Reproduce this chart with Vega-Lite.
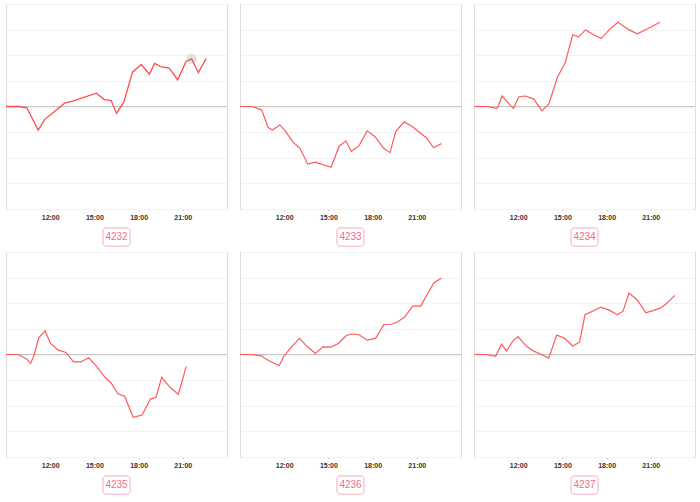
{
  "$schema": "https://vega.github.io/schema/vega-lite/v6.json",
  "padding": {"left": 2, "top": 3, "right": 0, "bottom": 0},
  "background": "white",
  "data": {
    "format": {"parse": {"time": "date:'%H:%M'"}},
    "values": [
      {"panel": "4232", "time": "09:00", "value": 0},
      {"panel": "4232", "time": "09:50", "value": 0},
      {"panel": "4232", "time": "10:25", "value": -0.05},
      {"panel": "4232", "time": "11:11", "value": -0.92},
      {"panel": "4232", "time": "11:38", "value": -0.5},
      {"panel": "4232", "time": "12:10", "value": -0.25},
      {"panel": "4232", "time": "13:00", "value": 0.14},
      {"panel": "4232", "time": "13:28", "value": 0.2},
      {"panel": "4232", "time": "15:08", "value": 0.52},
      {"panel": "4232", "time": "15:40", "value": 0.27},
      {"panel": "4232", "time": "16:08", "value": 0.23},
      {"panel": "4232", "time": "16:30", "value": -0.27},
      {"panel": "4232", "time": "17:00", "value": 0.18},
      {"panel": "4232", "time": "17:35", "value": 1.34},
      {"panel": "4232", "time": "18:11", "value": 1.64},
      {"panel": "4232", "time": "18:44", "value": 1.26},
      {"panel": "4232", "time": "19:05", "value": 1.68},
      {"panel": "4232", "time": "19:32", "value": 1.55},
      {"panel": "4232", "time": "20:05", "value": 1.5},
      {"panel": "4232", "time": "20:39", "value": 1.04},
      {"panel": "4232", "time": "21:13", "value": 1.76},
      {"panel": "4232", "time": "21:36", "value": 1.86},
      {"panel": "4232", "time": "22:03", "value": 1.32},
      {"panel": "4232", "time": "22:35", "value": 1.87},

      {"panel": "4233", "time": "09:00", "value": 0},
      {"panel": "4233", "time": "09:50", "value": 0},
      {"panel": "4233", "time": "10:28", "value": -0.13},
      {"panel": "4233", "time": "10:54", "value": -0.81},
      {"panel": "4233", "time": "11:12", "value": -0.92},
      {"panel": "4233", "time": "11:42", "value": -0.72},
      {"panel": "4233", "time": "12:04", "value": -0.95},
      {"panel": "4233", "time": "12:34", "value": -1.37},
      {"panel": "4233", "time": "13:04", "value": -1.63},
      {"panel": "4233", "time": "13:36", "value": -2.25},
      {"panel": "4233", "time": "14:07", "value": -2.17},
      {"panel": "4233", "time": "15:11", "value": -2.37},
      {"panel": "4233", "time": "15:44", "value": -1.54},
      {"panel": "4233", "time": "16:11", "value": -1.35},
      {"panel": "4233", "time": "16:33", "value": -1.75},
      {"panel": "4233", "time": "17:04", "value": -1.54},
      {"panel": "4233", "time": "17:38", "value": -0.95},
      {"panel": "4233", "time": "18:10", "value": -1.18},
      {"panel": "4233", "time": "18:45", "value": -1.63},
      {"panel": "4233", "time": "19:11", "value": -1.8},
      {"panel": "4233", "time": "19:34", "value": -0.98},
      {"panel": "4233", "time": "20:08", "value": -0.6},
      {"panel": "4233", "time": "20:41", "value": -0.78},
      {"panel": "4233", "time": "21:41", "value": -1.24},
      {"panel": "4233", "time": "22:08", "value": -1.61},
      {"panel": "4233", "time": "22:40", "value": -1.45},

      {"panel": "4234", "time": "09:00", "value": 0},
      {"panel": "4234", "time": "09:54", "value": 0},
      {"panel": "4234", "time": "10:32", "value": -0.07},
      {"panel": "4234", "time": "10:38", "value": -0.01},
      {"panel": "4234", "time": "10:54", "value": 0.41},
      {"panel": "4234", "time": "11:40", "value": -0.08},
      {"panel": "4234", "time": "12:03", "value": 0.38},
      {"panel": "4234", "time": "12:30", "value": 0.41},
      {"panel": "4234", "time": "13:04", "value": 0.29},
      {"panel": "4234", "time": "13:36", "value": -0.17},
      {"panel": "4234", "time": "14:05", "value": 0.1},
      {"panel": "4234", "time": "14:40", "value": 1.15},
      {"panel": "4234", "time": "15:11", "value": 1.7},
      {"panel": "4234", "time": "15:42", "value": 2.8},
      {"panel": "4234", "time": "16:06", "value": 2.72},
      {"panel": "4234", "time": "16:34", "value": 2.99},
      {"panel": "4234", "time": "17:06", "value": 2.81},
      {"panel": "4234", "time": "17:38", "value": 2.65},
      {"panel": "4234", "time": "18:13", "value": 3.02},
      {"panel": "4234", "time": "18:46", "value": 3.29},
      {"panel": "4234", "time": "19:32", "value": 2.99},
      {"panel": "4234", "time": "20:05", "value": 2.84},
      {"panel": "4234", "time": "20:55", "value": 3.07},
      {"panel": "4234", "time": "21:37", "value": 3.29},

      {"panel": "4235", "time": "09:00", "value": 0},
      {"panel": "4235", "time": "09:50", "value": 0},
      {"panel": "4235", "time": "10:24", "value": -0.17},
      {"panel": "4235", "time": "10:40", "value": -0.35},
      {"panel": "4235", "time": "10:54", "value": -0.04},
      {"panel": "4235", "time": "11:13", "value": 0.65},
      {"panel": "4235", "time": "11:39", "value": 0.92},
      {"panel": "4235", "time": "12:02", "value": 0.42},
      {"panel": "4235", "time": "12:33", "value": 0.17},
      {"panel": "4235", "time": "13:04", "value": 0.08},
      {"panel": "4235", "time": "13:35", "value": -0.29},
      {"panel": "4235", "time": "14:05", "value": -0.29},
      {"panel": "4235", "time": "14:37", "value": -0.13},
      {"panel": "4235", "time": "15:09", "value": -0.46},
      {"panel": "4235", "time": "15:44", "value": -0.9},
      {"panel": "4235", "time": "16:08", "value": -1.11},
      {"panel": "4235", "time": "16:36", "value": -1.53},
      {"panel": "4235", "time": "17:03", "value": -1.63},
      {"panel": "4235", "time": "17:38", "value": -2.45},
      {"panel": "4235", "time": "18:14", "value": -2.36},
      {"panel": "4235", "time": "18:48", "value": -1.74},
      {"panel": "4235", "time": "19:11", "value": -1.67},
      {"panel": "4235", "time": "19:34", "value": -0.89},
      {"panel": "4235", "time": "20:08", "value": -1.28},
      {"panel": "4235", "time": "20:42", "value": -1.56},
      {"panel": "4235", "time": "21:14", "value": -0.46},

      {"panel": "4236", "time": "09:00", "value": 0},
      {"panel": "4236", "time": "09:48", "value": 0},
      {"panel": "4236", "time": "10:28", "value": -0.05},
      {"panel": "4236", "time": "10:45", "value": -0.18},
      {"panel": "4236", "time": "11:39", "value": -0.44},
      {"panel": "4236", "time": "12:01", "value": -0.03},
      {"panel": "4236", "time": "12:31", "value": 0.31},
      {"panel": "4236", "time": "13:02", "value": 0.63},
      {"panel": "4236", "time": "13:35", "value": 0.3},
      {"panel": "4236", "time": "14:07", "value": 0.04},
      {"panel": "4236", "time": "14:37", "value": 0.3},
      {"panel": "4236", "time": "15:10", "value": 0.29},
      {"panel": "4236", "time": "15:41", "value": 0.43},
      {"panel": "4236", "time": "16:13", "value": 0.74},
      {"panel": "4236", "time": "16:36", "value": 0.8},
      {"panel": "4236", "time": "17:05", "value": 0.77},
      {"panel": "4236", "time": "17:38", "value": 0.56},
      {"panel": "4236", "time": "18:12", "value": 0.63},
      {"panel": "4236", "time": "18:46", "value": 1.17},
      {"panel": "4236", "time": "19:17", "value": 1.18},
      {"panel": "4236", "time": "19:40", "value": 1.27},
      {"panel": "4236", "time": "20:10", "value": 1.45},
      {"panel": "4236", "time": "20:43", "value": 1.89},
      {"panel": "4236", "time": "21:16", "value": 1.89},
      {"panel": "4236", "time": "21:43", "value": 2.36},
      {"panel": "4236", "time": "22:10", "value": 2.8},
      {"panel": "4236", "time": "22:40", "value": 2.98},

      {"panel": "4237", "time": "09:00", "value": 0},
      {"panel": "4237", "time": "09:50", "value": 0},
      {"panel": "4237", "time": "10:28", "value": -0.07},
      {"panel": "4237", "time": "10:52", "value": 0.4},
      {"panel": "4237", "time": "11:12", "value": 0.14},
      {"panel": "4237", "time": "11:39", "value": 0.53},
      {"panel": "4237", "time": "11:59", "value": 0.7},
      {"panel": "4237", "time": "12:33", "value": 0.33},
      {"panel": "4237", "time": "13:03", "value": 0.13},
      {"panel": "4237", "time": "13:35", "value": 0},
      {"panel": "4237", "time": "14:04", "value": -0.14},
      {"panel": "4237", "time": "14:37", "value": 0.76},
      {"panel": "4237", "time": "15:09", "value": 0.63},
      {"panel": "4237", "time": "15:42", "value": 0.33},
      {"panel": "4237", "time": "16:10", "value": 0.48},
      {"panel": "4237", "time": "16:32", "value": 1.55},
      {"panel": "4237", "time": "17:03", "value": 1.69},
      {"panel": "4237", "time": "17:37", "value": 1.85},
      {"panel": "4237", "time": "18:11", "value": 1.73},
      {"panel": "4237", "time": "18:44", "value": 1.55},
      {"panel": "4237", "time": "19:07", "value": 1.69},
      {"panel": "4237", "time": "19:31", "value": 2.4},
      {"panel": "4237", "time": "20:04", "value": 2.14},
      {"panel": "4237", "time": "20:40", "value": 1.63},
      {"panel": "4237", "time": "21:09", "value": 1.71},
      {"panel": "4237", "time": "21:39", "value": 1.81},
      {"panel": "4237", "time": "22:04", "value": 1.99},
      {"panel": "4237", "time": "22:38", "value": 2.31}
    ]
  },
  "columns": 3,
  "spacing": {"row": 3, "column": 8},
  "concat": [
    {
      "width": 221, "height": 205,
      "layer": [
        {"mark": {"type": "rule", "color": "#c6c6c6", "strokeWidth": 1.1}, "encoding": {"y": {"datum": 0}}},
        {"transform": [{"filter": "datum.panel === '4232' && hours(datum.time) === 21 && minutes(datum.time) === 36"}],
         "mark": {"type": "circle", "size": 110, "color": "#dcdcdc", "opacity": 0.85},
         "encoding": {"x": {"field": "time", "type": "temporal"}, "y": {"field": "value", "type": "quantitative"}}},
        {"transform": [{"filter": "datum.panel === '4232'"}],
         "mark": {"type": "line", "color": "#ff4d4d", "strokeWidth": 1.3},
         "encoding": {
           "x": {"field": "time", "type": "temporal", "title": null,
                 "scale": {"domain": [{"year": 1900, "month": 1, "date": 1, "hours": 9}, {"year": 1900, "month": 1, "date": 2, "hours": 0}]},
                 "axis": {"values": [{"year": 1900, "month": 1, "date": 1, "hours": 12}, {"year": 1900, "month": 1, "date": 1, "hours": 15}, {"year": 1900, "month": 1, "date": 1, "hours": 18}, {"year": 1900, "month": 1, "date": 1, "hours": 21}], "format": "%H:%M"}},
           "y": {"field": "value", "type": "quantitative", "title": null, "scale": {"domain": [-4, 4], "nice": false}}
         }},
        {"data": {"values": [{"label": "4232"}]},
         "mark": {"type": "rect", "fill": "white", "stroke": "#f8a9bf", "strokeWidth": 1, "cornerRadius": 3, "clip": false},
         "encoding": {"x": {"datum": {"year": 1900, "month": 1, "date": 1, "hours": 15, "minutes": 35}}, "x2": {"datum": {"year": 1900, "month": 1, "date": 1, "hours": 17, "minutes": 25}}, "y": {"datum": -4.74}, "y2": {"datum": -5.45}}},
        {"data": {"values": [{"label": "4232"}]},
         "mark": {"type": "text", "color": "#f06b8e", "fontSize": 10, "font": "Liberation Sans", "clip": false},
         "encoding": {"x": {"datum": {"year": 1900, "month": 1, "date": 1, "hours": 16, "minutes": 30}}, "y": {"datum": -5.1}, "text": {"field": "label"}}}
      ]
    },
    {
      "width": 221, "height": 205,
      "layer": [
        {"mark": {"type": "rule", "color": "#c6c6c6", "strokeWidth": 1.1}, "encoding": {"y": {"datum": 0}}},
        {"transform": [{"filter": "datum.panel === '4233'"}],
         "mark": {"type": "line", "color": "#ff5a5a", "strokeWidth": 1.2},
         "encoding": {
           "x": {"field": "time", "type": "temporal", "title": null,
                 "scale": {"domain": [{"year": 1900, "month": 1, "date": 1, "hours": 9}, {"year": 1900, "month": 1, "date": 2, "hours": 0}]},
                 "axis": {"values": [{"year": 1900, "month": 1, "date": 1, "hours": 12}, {"year": 1900, "month": 1, "date": 1, "hours": 15}, {"year": 1900, "month": 1, "date": 1, "hours": 18}, {"year": 1900, "month": 1, "date": 1, "hours": 21}], "format": "%H:%M"}},
           "y": {"field": "value", "type": "quantitative", "title": null, "scale": {"domain": [-4, 4], "nice": false}}
         }},
        {"data": {"values": [{"label": "4233"}]},
         "mark": {"type": "rect", "fill": "white", "stroke": "#f8a9bf", "strokeWidth": 1, "cornerRadius": 3, "clip": false},
         "encoding": {"x": {"datum": {"year": 1900, "month": 1, "date": 1, "hours": 15, "minutes": 35}}, "x2": {"datum": {"year": 1900, "month": 1, "date": 1, "hours": 17, "minutes": 25}}, "y": {"datum": -4.74}, "y2": {"datum": -5.45}}},
        {"data": {"values": [{"label": "4233"}]},
         "mark": {"type": "text", "color": "#f06b8e", "fontSize": 10, "font": "Liberation Sans", "clip": false},
         "encoding": {"x": {"datum": {"year": 1900, "month": 1, "date": 1, "hours": 16, "minutes": 30}}, "y": {"datum": -5.1}, "text": {"field": "label"}}}
      ]
    },
    {
      "width": 221, "height": 205,
      "layer": [
        {"mark": {"type": "rule", "color": "#c6c6c6", "strokeWidth": 1.1}, "encoding": {"y": {"datum": 0}}},
        {"transform": [{"filter": "datum.panel === '4234'"}],
         "mark": {"type": "line", "color": "#ff5a5a", "strokeWidth": 1.2},
         "encoding": {
           "x": {"field": "time", "type": "temporal", "title": null,
                 "scale": {"domain": [{"year": 1900, "month": 1, "date": 1, "hours": 9}, {"year": 1900, "month": 1, "date": 2, "hours": 0}]},
                 "axis": {"values": [{"year": 1900, "month": 1, "date": 1, "hours": 12}, {"year": 1900, "month": 1, "date": 1, "hours": 15}, {"year": 1900, "month": 1, "date": 1, "hours": 18}, {"year": 1900, "month": 1, "date": 1, "hours": 21}], "format": "%H:%M"}},
           "y": {"field": "value", "type": "quantitative", "title": null, "scale": {"domain": [-4, 4], "nice": false}}
         }},
        {"data": {"values": [{"label": "4234"}]},
         "mark": {"type": "rect", "fill": "white", "stroke": "#f8a9bf", "strokeWidth": 1, "cornerRadius": 3, "clip": false},
         "encoding": {"x": {"datum": {"year": 1900, "month": 1, "date": 1, "hours": 15, "minutes": 35}}, "x2": {"datum": {"year": 1900, "month": 1, "date": 1, "hours": 17, "minutes": 25}}, "y": {"datum": -4.74}, "y2": {"datum": -5.45}}},
        {"data": {"values": [{"label": "4234"}]},
         "mark": {"type": "text", "color": "#f06b8e", "fontSize": 10, "font": "Liberation Sans", "clip": false},
         "encoding": {"x": {"datum": {"year": 1900, "month": 1, "date": 1, "hours": 16, "minutes": 30}}, "y": {"datum": -5.1}, "text": {"field": "label"}}}
      ]
    },
    {
      "width": 221, "height": 205,
      "layer": [
        {"mark": {"type": "rule", "color": "#c6c6c6", "strokeWidth": 1.1}, "encoding": {"y": {"datum": 0}}},
        {"transform": [{"filter": "datum.panel === '4235'"}],
         "mark": {"type": "line", "color": "#ff5a5a", "strokeWidth": 1.2},
         "encoding": {
           "x": {"field": "time", "type": "temporal", "title": null,
                 "scale": {"domain": [{"year": 1900, "month": 1, "date": 1, "hours": 9}, {"year": 1900, "month": 1, "date": 2, "hours": 0}]},
                 "axis": {"values": [{"year": 1900, "month": 1, "date": 1, "hours": 12}, {"year": 1900, "month": 1, "date": 1, "hours": 15}, {"year": 1900, "month": 1, "date": 1, "hours": 18}, {"year": 1900, "month": 1, "date": 1, "hours": 21}], "format": "%H:%M"}},
           "y": {"field": "value", "type": "quantitative", "title": null, "scale": {"domain": [-4, 4], "nice": false}}
         }},
        {"data": {"values": [{"label": "4235"}]},
         "mark": {"type": "rect", "fill": "white", "stroke": "#f8a9bf", "strokeWidth": 1, "cornerRadius": 3, "clip": false},
         "encoding": {"x": {"datum": {"year": 1900, "month": 1, "date": 1, "hours": 15, "minutes": 35}}, "x2": {"datum": {"year": 1900, "month": 1, "date": 1, "hours": 17, "minutes": 25}}, "y": {"datum": -4.74}, "y2": {"datum": -5.45}}},
        {"data": {"values": [{"label": "4235"}]},
         "mark": {"type": "text", "color": "#f06b8e", "fontSize": 10, "font": "Liberation Sans", "clip": false},
         "encoding": {"x": {"datum": {"year": 1900, "month": 1, "date": 1, "hours": 16, "minutes": 30}}, "y": {"datum": -5.1}, "text": {"field": "label"}}}
      ]
    },
    {
      "width": 221, "height": 205,
      "layer": [
        {"mark": {"type": "rule", "color": "#c6c6c6", "strokeWidth": 1.1}, "encoding": {"y": {"datum": 0}}},
        {"transform": [{"filter": "datum.panel === '4236'"}],
         "mark": {"type": "line", "color": "#ff5a5a", "strokeWidth": 1.2},
         "encoding": {
           "x": {"field": "time", "type": "temporal", "title": null,
                 "scale": {"domain": [{"year": 1900, "month": 1, "date": 1, "hours": 9}, {"year": 1900, "month": 1, "date": 2, "hours": 0}]},
                 "axis": {"values": [{"year": 1900, "month": 1, "date": 1, "hours": 12}, {"year": 1900, "month": 1, "date": 1, "hours": 15}, {"year": 1900, "month": 1, "date": 1, "hours": 18}, {"year": 1900, "month": 1, "date": 1, "hours": 21}], "format": "%H:%M"}},
           "y": {"field": "value", "type": "quantitative", "title": null, "scale": {"domain": [-4, 4], "nice": false}}
         }},
        {"data": {"values": [{"label": "4236"}]},
         "mark": {"type": "rect", "fill": "white", "stroke": "#f8a9bf", "strokeWidth": 1, "cornerRadius": 3, "clip": false},
         "encoding": {"x": {"datum": {"year": 1900, "month": 1, "date": 1, "hours": 15, "minutes": 35}}, "x2": {"datum": {"year": 1900, "month": 1, "date": 1, "hours": 17, "minutes": 25}}, "y": {"datum": -4.74}, "y2": {"datum": -5.45}}},
        {"data": {"values": [{"label": "4236"}]},
         "mark": {"type": "text", "color": "#f06b8e", "fontSize": 10, "font": "Liberation Sans", "clip": false},
         "encoding": {"x": {"datum": {"year": 1900, "month": 1, "date": 1, "hours": 16, "minutes": 30}}, "y": {"datum": -5.1}, "text": {"field": "label"}}}
      ]
    },
    {
      "width": 221, "height": 205,
      "layer": [
        {"mark": {"type": "rule", "color": "#c6c6c6", "strokeWidth": 1.1}, "encoding": {"y": {"datum": 0}}},
        {"transform": [{"filter": "datum.panel === '4237'"}],
         "mark": {"type": "line", "color": "#ff5a5a", "strokeWidth": 1.2},
         "encoding": {
           "x": {"field": "time", "type": "temporal", "title": null,
                 "scale": {"domain": [{"year": 1900, "month": 1, "date": 1, "hours": 9}, {"year": 1900, "month": 1, "date": 2, "hours": 0}]},
                 "axis": {"values": [{"year": 1900, "month": 1, "date": 1, "hours": 12}, {"year": 1900, "month": 1, "date": 1, "hours": 15}, {"year": 1900, "month": 1, "date": 1, "hours": 18}, {"year": 1900, "month": 1, "date": 1, "hours": 21}], "format": "%H:%M"}},
           "y": {"field": "value", "type": "quantitative", "title": null, "scale": {"domain": [-4, 4], "nice": false}}
         }},
        {"data": {"values": [{"label": "4237"}]},
         "mark": {"type": "rect", "fill": "white", "stroke": "#f8a9bf", "strokeWidth": 1, "cornerRadius": 3, "clip": false},
         "encoding": {"x": {"datum": {"year": 1900, "month": 1, "date": 1, "hours": 15, "minutes": 35}}, "x2": {"datum": {"year": 1900, "month": 1, "date": 1, "hours": 17, "minutes": 25}}, "y": {"datum": -4.74}, "y2": {"datum": -5.45}}},
        {"data": {"values": [{"label": "4237"}]},
         "mark": {"type": "text", "color": "#f06b8e", "fontSize": 10, "font": "Liberation Sans", "clip": false},
         "encoding": {"x": {"datum": {"year": 1900, "month": 1, "date": 1, "hours": 16, "minutes": 30}}, "y": {"datum": -5.1}, "text": {"field": "label"}}}
      ]
    }
  ],
  "config": {
    "view": {"stroke": "#dddddd", "strokeWidth": 1},
    "axisX": {"grid": false, "domain": false, "ticks": true, "tickSize": 2, "tickColor": "#d0d0d0", "labelPadding": 2, "labelFontSize": 7, "labelFont": "Liberation Sans", "labelColor": "#333333", "labelFontWeight": "bold"},
    "axisY": {"grid": true, "gridColor": "#f2f2f2", "gridWidth": 1, "domain": false, "ticks": false, "labels": false, "minExtent": 0, "maxExtent": 0, "labelPadding": 0, "values": [-3, -2, -1, 1, 2, 3]}
  }
}
